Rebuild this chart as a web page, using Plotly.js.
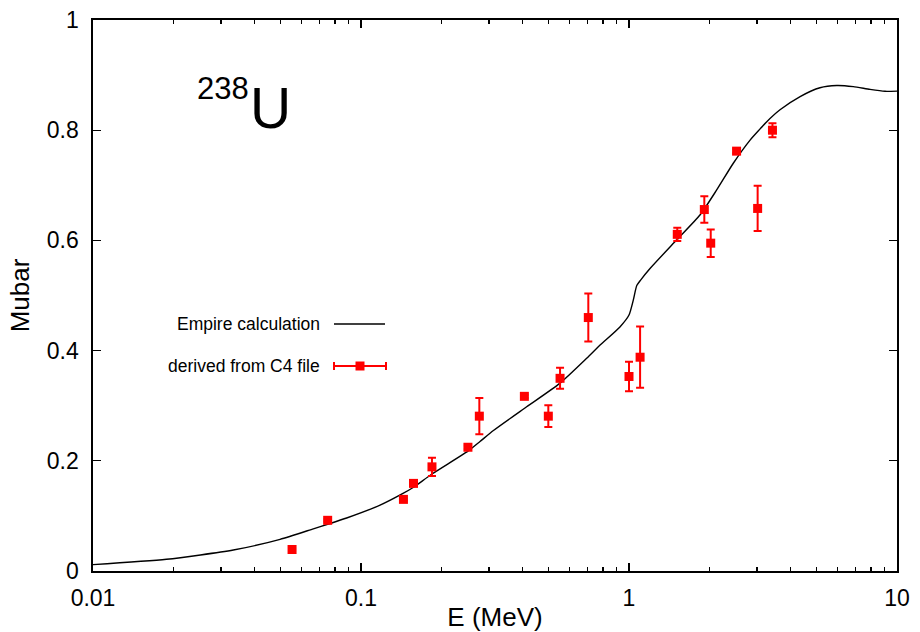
<!DOCTYPE html>
<html>
<head>
<meta charset="utf-8">
<script src="https://cdn.plot.ly/plotly-3.0.1.min.js"></script>
<style>html,body{margin:0;padding:0;background:#fff;}#chart{width:920px;height:632px;}</style>
</head>
<body>
<div id="chart"></div>
<script>
// Empire calculation curve
const calcE = [0.01, 0.0188, 0.0334, 0.0499, 0.0664, 0.0751, 0.0884, 0.1178, 0.144, 0.157, 0.184, 0.2506, 0.278, 0.312, 0.415, 0.553, 0.695, 0.78, 0.925, 1.0, 1.038, 1.069, 1.105, 1.198, 1.507, 1.84, 2.124, 2.45, 2.83, 3.08, 3.26, 3.66, 4.35, 5.16, 5.96, 6.87, 7.93, 9.02, 10];
const calcSigma = [0.0115, 0.0212, 0.038, 0.0575, 0.0765, 0.0848, 0.0962, 0.1195, 0.1412, 0.152, 0.176, 0.2175, 0.235, 0.255, 0.298, 0.341, 0.386, 0.410, 0.443, 0.4646, 0.492, 0.518, 0.528, 0.549, 0.601, 0.646, 0.6915, 0.740, 0.782, 0.802, 0.815, 0.837, 0.861, 0.877, 0.881, 0.879, 0.874, 0.8706, 0.871];

// derived from C4 file
const expE = [0.0553, 0.0751, 0.144, 0.157, 0.184, 0.2506, 0.2764, 0.407, 0.50, 0.553, 0.705, 1.00, 1.10, 1.514, 1.91, 2.018, 2.52, 3.02, 3.43];
const expSigma = [0.039, 0.092, 0.130, 0.159, 0.189, 0.2246, 0.281, 0.317, 0.281, 0.3497, 0.460, 0.353, 0.388, 0.611, 0.656, 0.595, 0.762, 0.658, 0.800];
const expErr = [0.002, 0.002, 0.002, 0.003, 0.0167, 0.003, 0.033, 0.003, 0.0197, 0.019, 0.0435, 0.0266, 0.0556, 0.012, 0.024, 0.025, 0.004, 0.041, 0.0127];

const xTickVals = [0.01, 0.1, 1, 10];
const xTickText = ['0.01', '0.1', '1', '10'];
const xMinorVals = [0.02,0.03,0.04,0.05,0.06,0.07,0.08,0.09,0.2,0.3,0.4,0.5,0.6,0.7,0.8,0.9,2,3,4,5,6,7,8,9];
const yTickVals = [0, 0.2, 0.4, 0.6, 0.8, 1];
const yTickText = ['0', '0.2', '0.4', '0.6', '0.8', '1'];

const legendNames = ['Empire calculation', 'derived from C4 file'];

// plot area in pixels
const L = 93, R = 897, T = 20, B = 571;
const px = v => (v - L) / (R - L);
const py = v => (B - v) / (B - T);

const FONT = 'Liberation Sans, Arial, Helvetica, sans-serif';

const traces = [
  {
    x: calcE, y: calcSigma, type: 'scatter', mode: 'lines',
    line: {color: '#000000', width: 1.4, shape: 'spline', smoothing: 0.6},
    name: legendNames[0], showlegend: false, hoverinfo: 'skip'
  },
  {
    x: expE, y: expSigma, type: 'scatter', mode: 'markers',
    marker: {symbol: 'square', size: 9, color: '#ff0000'},
    error_y: {type: 'data', array: expErr, visible: true, color: '#ff0000', thickness: 2, width: 4},
    name: legendNames[1], showlegend: false
  }
];

const shapes = [
  // legend sample: line
  {type: 'line', xref: 'paper', yref: 'paper', x0: px(334), x1: px(385), y0: py(324), y1: py(324), line: {color: '#000', width: 1.4}},
  // legend sample: error bar
  {type: 'line', xref: 'paper', yref: 'paper', x0: px(334), x1: px(386), y0: py(366), y1: py(366), line: {color: '#ff0000', width: 2}},
  {type: 'line', xref: 'paper', yref: 'paper', x0: px(334), x1: px(334), y0: py(362), y1: py(370), line: {color: '#ff0000', width: 2}},
  {type: 'line', xref: 'paper', yref: 'paper', x0: px(386), x1: px(386), y0: py(362), y1: py(370), line: {color: '#ff0000', width: 2}},
  {type: 'rect', xref: 'paper', yref: 'paper', x0: px(355.5), x1: px(364.5), y0: py(361.5), y1: py(370.5), line: {width: 0}, fillcolor: '#ff0000'}
];

const annotations = [
  {xref: 'paper', yref: 'paper', x: px(322), y: py(324), xanchor: 'right', yanchor: 'middle', text: legendNames[0], showarrow: false, font: {family: FONT, size: 17.5, color: '#000'}},
  {xref: 'paper', yref: 'paper', x: px(322), y: py(366), xanchor: 'right', yanchor: 'middle', text: legendNames[1], showarrow: false, font: {family: FONT, size: 17.5, color: '#000'}},
  {xref: 'paper', yref: 'paper', x: px(223), y: py(88.5), xanchor: 'center', yanchor: 'middle', text: '238', showarrow: false, font: {family: FONT, size: 31, color: '#000'}},
  {xref: 'paper', yref: 'paper', x: px(270.5), y: py(108), xanchor: 'center', yanchor: 'middle', text: 'U', showarrow: false, font: {family: FONT, size: 57, color: '#000'}}
];

const layout = {
  width: 920, height: 632,
  margin: {l: L, r: 920 - R, t: T, b: 632 - B, pad: 0},
  paper_bgcolor: '#fff', plot_bgcolor: '#fff',
  font: {family: FONT, color: '#000'},
  showlegend: false,
  xaxis: {
    type: 'log', range: [-2, 1],
    tickmode: 'array', tickvals: xTickVals, ticktext: xTickText,
    ticks: 'inside', ticklen: 8, tickwidth: 1.3, tickcolor: '#000',
    minor: {tickmode: 'array', tickvals: xMinorVals, ticks: 'inside', ticklen: 4, tickwidth: 1.3, tickcolor: '#000', showgrid: false},
    showline: true, linecolor: '#000', linewidth: 1.6, mirror: 'allticks',
    showgrid: false, zeroline: false,
    tickfont: {family: FONT, size: 23, color: '#000'},
    ticklabelstandoff: 6,
    title: {text: 'E (MeV)', font: {family: FONT, size: 26, color: '#000'}, standoff: 2}
  },
  yaxis: {
    range: [0, 1],
    tickmode: 'array', tickvals: yTickVals, ticktext: yTickText,
    ticks: 'inside', ticklen: 8, tickwidth: 1.3, tickcolor: '#000',
    showline: true, linecolor: '#000', linewidth: 1.6, mirror: 'allticks',
    showgrid: false, zeroline: false,
    tickfont: {family: FONT, size: 23, color: '#000'},
    ticklabelstandoff: 8,
    title: {text: 'Mubar', font: {family: FONT, size: 26, color: '#000'}, standoff: 10}
  },
  shapes: shapes,
  annotations: annotations
};

Plotly.newPlot('chart', traces, layout, {staticPlot: true, displayModeBar: false});
</script>
</body>
</html>
